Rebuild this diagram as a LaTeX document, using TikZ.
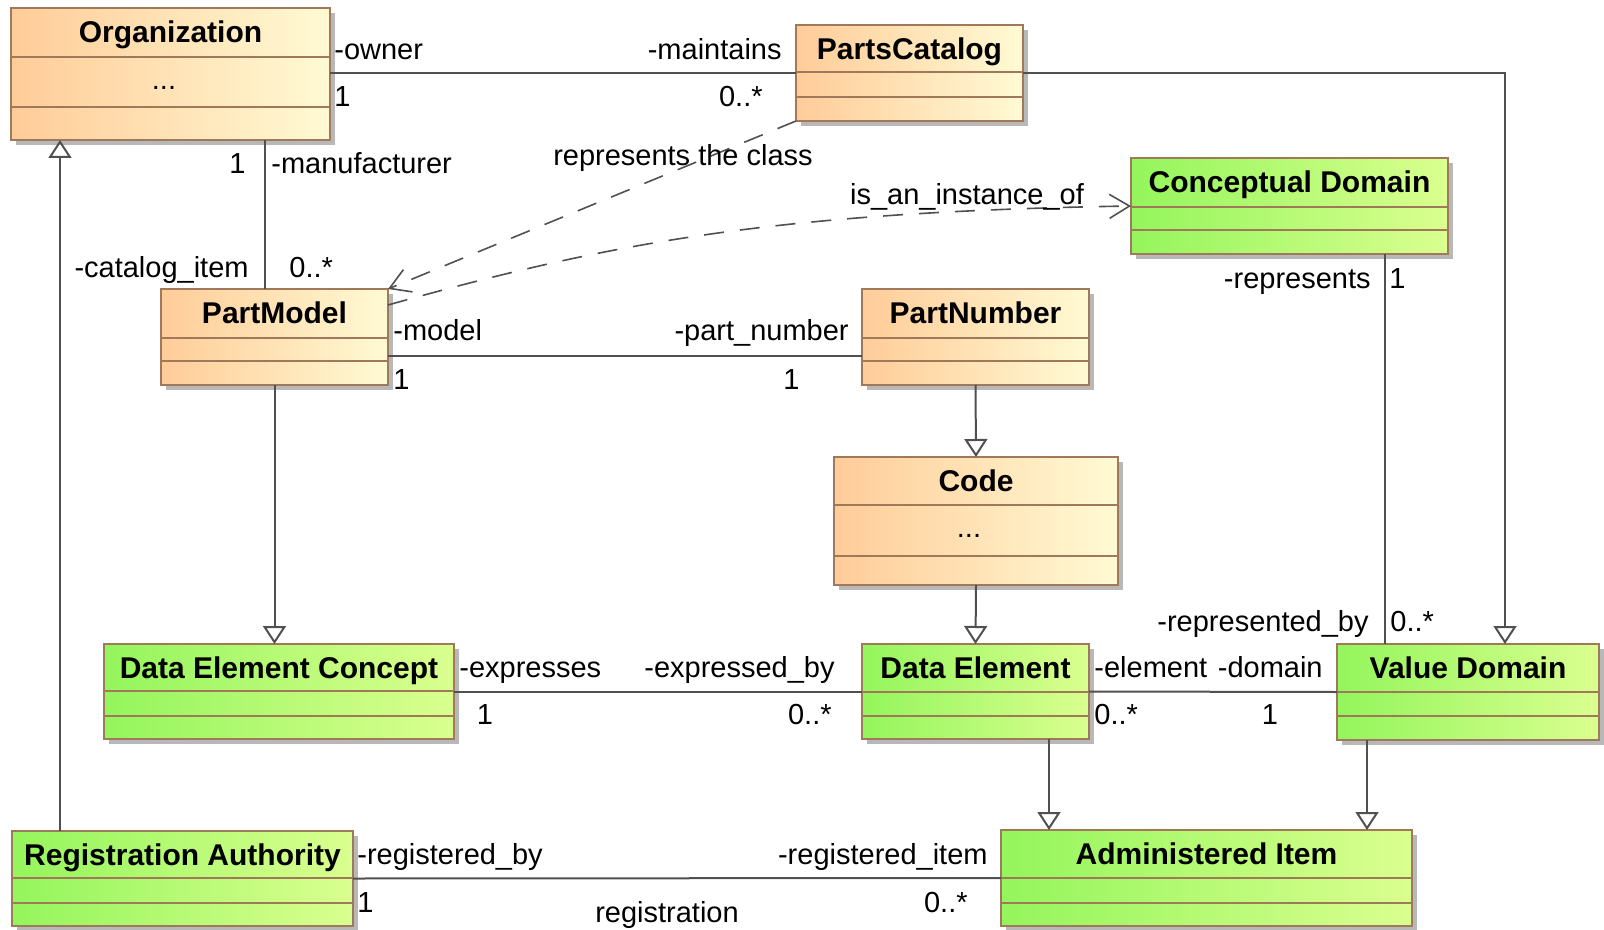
\documentclass[tikz,border=0pt]{standalone}
\usepackage{fontspec}
\setmainfont{Liberation Sans}
\usepackage{tikz}
\usetikzlibrary{arrows.meta,shadows,positioning}
\definecolor{orangeL}{RGB}{255,204,153}
\definecolor{orangeR}{RGB}{255,250,212}
\definecolor{greenL}{RGB}{148,245,92}
\definecolor{greenR}{RGB}{218,255,143}
\definecolor{classborder}{RGB}{160,120,90}
\definecolor{linegray}{RGB}{80,80,80}
\tikzstyle{classbox}=[rectangle, draw=classborder, line width=1pt, inner sep=0pt, outer sep=0pt, drop shadow={shadow xshift=2.5pt, shadow yshift=-2.5pt, fill=black!28, opacity=1}]
\tikzstyle{orangeclass}=[classbox, left color=orangeL, right color=orangeR]
\tikzstyle{greenclass}=[classbox, left color=greenL, right color=greenR]
\tikzstyle{classtitle}=[inner sep=0pt, text height=0.92em, text depth=0pt, font=\fontsize{15pt}{18pt}\selectfont\bfseries]
\tikzstyle{role}=[inner sep=0pt, text height=0.92em, text depth=0pt, font=\fontsize{14.5pt}{17pt}\selectfont]
\tikzstyle{compartment}=[draw=classborder, line width=1pt]
\tikzstyle{assoc}=[draw=linegray, line width=1pt]
\tikzstyle{gen}=[assoc, -{Triangle[open, length=9pt, width=11.5pt]}]
\tikzstyle{dep}=[draw=linegray, line width=0.8pt, dash pattern=on 10pt off 8pt, -{Straight Barb[length=10pt, width=12pt]}]
% name, style, left, top, right, bottom, sep1, sep2, title
\newcommand{\umlclass}[9]{%
  \node[#2, minimum width={(#5-#3)*0.5pt}, minimum height={(#6-#4)*0.5pt}] (#1) at ({(#3+#5)/2},{(#4+#6)/2}) {};
  \draw[compartment] (#3,#7) -- (#5,#7) (#3,#8) -- (#5,#8);
  \node[classtitle] (#1-title) at ({(#3+#5)/2},{#4+25}) {#9};
}

\begin{document}
\begin{tikzpicture}[x=0.5pt, y=-0.5pt]
            \useasboundingbox (0,0) rectangle (1604,930);
            \umlclass{org}{orangeclass}{11}{8}{330}{140}{57}{107}{Organization}
            \umlclass{pc}{orangeclass}{796}{25}{1023}{121}{72}{97}{PartsCatalog}
            \umlclass{pm}{orangeclass}{161}{289}{388}{385}{338}{361}{PartModel}
            \umlclass{pn}{orangeclass}{862}{289}{1089}{385}{338}{361}{PartNumber}
            \umlclass{code}{orangeclass}{834}{457}{1118}{585}{505}{556}{Code}
            \umlclass{cd}{greenclass}{1131}{158}{1448}{254}{207}{230}{Conceptual Domain}
            \umlclass{dec}{greenclass}{104}{644}{454}{739}{691}{716}{Data Element Concept}
            \umlclass{de}{greenclass}{862}{644}{1089}{739}{692}{716}{Data Element}
            \umlclass{vd}{greenclass}{1337}{644}{1599}{740}{692}{716}{Value Domain}
            \umlclass{ra}{greenclass}{12}{831}{353}{926}{878}{903}{Registration Authority}
            \umlclass{ai}{greenclass}{1001}{830}{1412}{926}{878}{903}{Administered Item}
            \node[role] (org-attr) at (164,80) {...};
            \node[role] (code-attr) at (969,528) {...};

            \coordinate (mfx) at (265,0);
            \coordinate (ragx) at (60,0);
            \coordinate (mdy) at (0,356);
            \coordinate (cdx) at (1385,0);
            \coordinate (pcx) at (1505,0);
            \coordinate (deax) at (1049,0);
            \coordinate (vdax) at (1367,0);

            \path[assoc]
                (org.east |- pc.west) edge (pc.west)
                (org.south -| mfx) edge (pm.north -| mfx)
                (pm.east |- mdy) edge (pn.west |- mdy)
                (cd.south -| cdx) edge (vd.north -| cdx)
                (dec.east) edge (de.west)
                (de.east) edge (vd.west)
                (ra.east) edge (ai.west)
            ;
            \draw[gen] (ra.north -| ragx) -- (org.south -| ragx);
            \draw[gen] (pm.south) -- (dec.north -| pm.south);
            \draw[gen] (pn.south) -- (code.north);
            \draw[gen] (code.south) -- (de.north);
            \draw[gen] (de.south -| deax) -- (ai.north -| deax);
            \draw[gen] (vd.south -| vdax) -- (ai.north -| vdax);
            \draw[gen] (pc.east) -| (vd.north -| pcx);
            \draw[dep] (pc.south west) -- (pm.north east);
            \draw[dep] ([yshift=-8pt]pm.north east) .. controls (600,246) and (760,212) .. (cd.west);

            \node[role, anchor=west] (r-owner) at (334,50) {-owner};
            \node[role, anchor=west] (m-owner) at (334,97) {1};
            \node[role, anchor=east] (r-maintains) at (782,50) {-maintains};
            \node[role, anchor=east] (m-maintains) at (763,97) {0..*};
            \node[role, anchor=east] (m-manufacturer) at (246,164) {1};
            \node[role, anchor=west] (r-manufacturer) at (271,164) {-manufacturer};
            \node[role, anchor=east] (r-catalog) at (249,268) {-catalog\_item};
            \node[role, anchor=west] (m-catalog) at (289,268) {0..*};
            \node[role] (l-represents) at (683,156) {represents the class};
            \node[role] (l-instance) at (967,195) {is\_an\_instance\_of};
            \node[role, anchor=east] (r-represents) at (1371,279) {-represents};
            \node[role, anchor=west] (m-represents) at (1389,279) {1};
            \node[role, anchor=west] (r-model) at (393,331) {-model};
            \node[role, anchor=west] (m-model) at (393,380) {1};
            \node[role, anchor=east] (r-partnumber) at (849,331) {-part\_number};
            \node[role, anchor=east] (m-partnumber) at (800,380) {1};
            \node[role, anchor=west] (r-expresses) at (459,668) {-expresses};
            \node[role] (m-expresses) at (485,715) {1};
            \node[role, anchor=east] (r-expressedby) at (835,668) {-expressed\_by};
            \node[role, anchor=east] (m-expressedby) at (832,715) {0..*};
            \node[role, anchor=west] (r-element) at (1094,668) {-element};
            \node[role, anchor=west] (m-element) at (1094,715) {0..*};
            \node[role, anchor=east] (r-domain) at (1323,668) {-domain};
            \node[role] (m-domain) at (1270,715) {1};
            \node[role, anchor=east] (r-representedby) at (1369,622) {-represented\_by};
            \node[role, anchor=west] (m-representedby) at (1390,622) {0..*};
            \node[role, anchor=west] (r-registeredby) at (357,855) {-registered\_by};
            \node[role, anchor=west] (m-registeredby) at (357,903) {1};
            \node[role, anchor=east] (r-registereditem) at (988,855) {-registered\_item};
            \node[role, anchor=east] (m-registereditem) at (968,903) {0..*};
            \node[role] (l-registration) at (667,913) {registration};
        \end{tikzpicture}
\end{document}
